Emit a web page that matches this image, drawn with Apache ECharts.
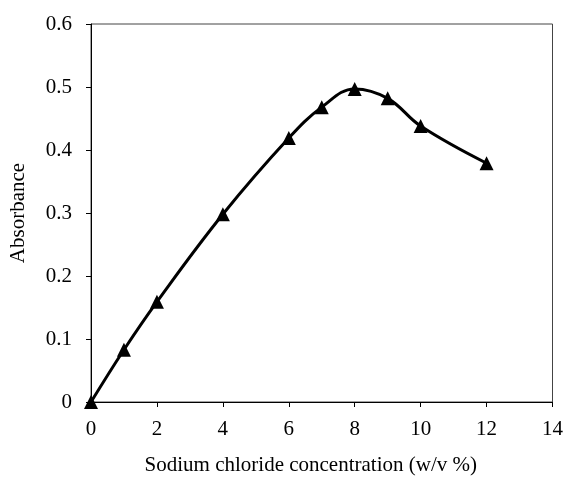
<!DOCTYPE html>
<html>
<head>
<meta charset="utf-8">
<script src="https://cdn.jsdelivr.net/npm/echarts@6/dist/echarts.min.js"></script>
<style>
html,body{margin:0;padding:0;background:#fff;}
#chart{width:566px;height:485px;}
</style>
</head>
<body>
<div id="chart"></div>
<script>
var concentration = [0, 1, 2, 4, 6, 7, 8, 9, 10, 12];
var absorbance = [0, 0.083, 0.159, 0.298, 0.419, 0.468, 0.497, 0.482, 0.438, 0.379];
var xTicks = [0, 2, 4, 6, 8, 10, 12, 14];
var yTicks = [0, 0.1, 0.2, 0.3, 0.4, 0.5, 0.6];

var points = concentration.map(function (c, i) { return [c, absorbance[i]]; });
var font = "'Liberation Serif', 'Times New Roman', serif";

var chart = echarts.init(document.getElementById('chart'), null, {renderer: 'canvas'});
chart.setOption({
  animation: false,
  backgroundColor: '#fff',
  grid: {
    left: 90, top: 24, right: 13, bottom: 83,
    show: true, borderColor: '#444', borderWidth: 1, backgroundColor: 'transparent'
  },
  xAxis: {
    type: 'value',
    min: xTicks[0], max: xTicks[xTicks.length - 1], interval: 2,
    name: 'Sodium chloride concentration (w/v %)',
    nameLocation: 'middle', nameGap: 53,
    nameTextStyle: {fontFamily: font, fontSize: 21, color: '#000', padding: [0, 22, 0, 0]},
    axisLine: {show: true, onZero: false, lineStyle: {color: '#000', width: 1}},
    axisTick: {show: true, length: 5, lineStyle: {color: '#000'}},
    axisLabel: {fontFamily: font, fontSize: 21, color: '#000', margin: 17},
    splitLine: {show: false}
  },
  yAxis: {
    type: 'value',
    min: yTicks[0], max: yTicks[yTicks.length - 1], interval: 0.1,
    name: 'Absorbance',
    nameLocation: 'middle', nameGap: 62,
    nameTextStyle: {fontFamily: font, fontSize: 21, color: '#000'},
    axisLine: {show: true, lineStyle: {color: '#000', width: 1}},
    axisTick: {show: true, length: 5, lineStyle: {color: '#000'}},
    axisLabel: {fontFamily: font, fontSize: 21, color: '#000', margin: 19,
      formatter: function (v) { return String(Math.round(v * 10) / 10); }},
    splitLine: {show: false}
  },
  series: [{
    type: 'line',
    data: points,
    smooth: 0.4,
    symbol: 'triangle',
    symbolSize: 14,
    itemStyle: {color: '#000'},
    lineStyle: {color: '#000', width: 3},
    clip: false
  }]
});
</script>
</body>
</html>
